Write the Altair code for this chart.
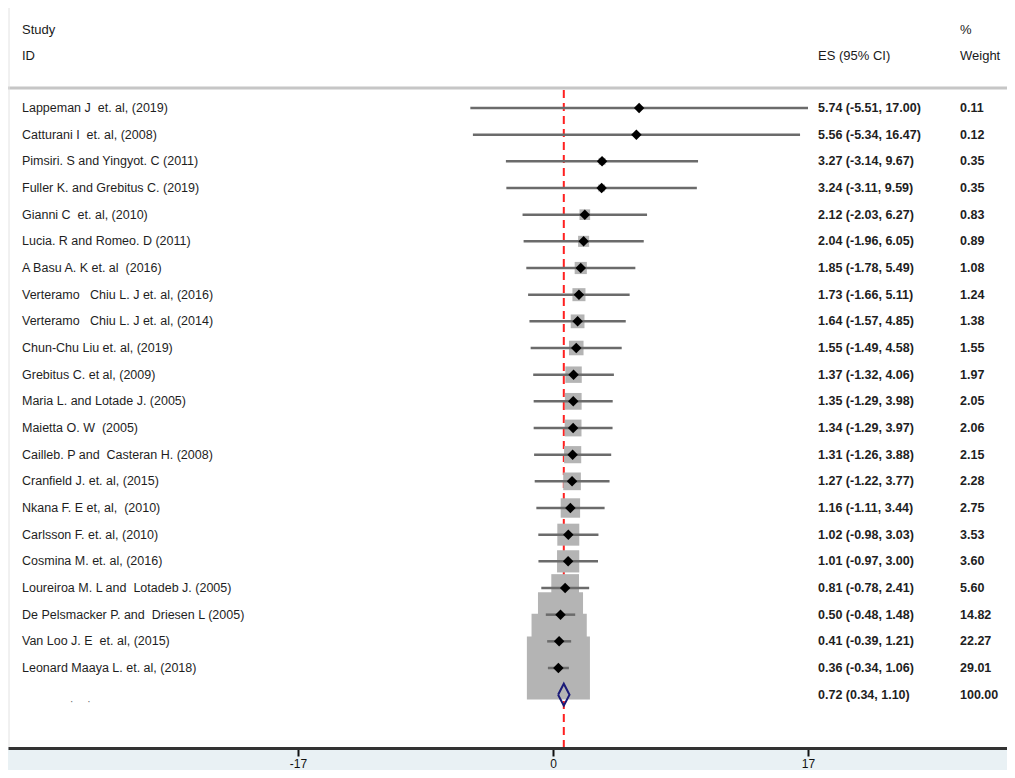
import altair as alt
import pandas as pd

studies = [
    "Lappeman J  et. al, (2019)",
    "Catturani I  et. al, (2008)",
    "Pimsiri. S and Yingyot. C (2011)",
    "Fuller K. and Grebitus C. (2019)",
    "Gianni C  et. al, (2010)",
    "Lucia. R and Romeo. D (2011)",
    "A Basu A. K et. al  (2016)",
    "Verteramo   Chiu L. J et. al, (2016)",
    "Verteramo   Chiu L. J et. al, (2014)",
    "Chun-Chu Liu et. al, (2019)",
    "Grebitus C. et al, (2009)",
    "Maria L. and Lotade J. (2005)",
    "Maietta O. W  (2005)",
    "Cailleb. P and  Casteran H. (2008)",
    "Cranfield J. et. al, (2015)",
    "Nkana F. E et, al,  (2010)",
    "Carlsson F. et. al, (2010)",
    "Cosmina M. et. al, (2016)",
    "Loureiroa M. L and  Lotadeb J. (2005)",
    "De Pelsmacker P. and  Driesen L (2005)",
    "Van Loo J. E  et. al, (2015)",
    "Leonard Maaya L. et. al, (2018)",
]
es = [5.74, 5.56, 3.27, 3.24, 2.12, 2.04, 1.85, 1.73, 1.64, 1.55, 1.37,
      1.35, 1.34, 1.31, 1.27, 1.16, 1.02, 1.01, 0.81, 0.50, 0.41, 0.36]
lo = [-5.51, -5.34, -3.14, -3.11, -2.03, -1.96, -1.78, -1.66, -1.57, -1.49, -1.32,
      -1.29, -1.29, -1.26, -1.22, -1.11, -0.98, -0.97, -0.78, -0.48, -0.39, -0.34]
hi = [17.00, 16.47, 9.67, 9.59, 6.27, 6.05, 5.49, 5.11, 4.85, 4.58, 4.06,
      3.98, 3.97, 3.88, 3.77, 3.44, 3.03, 3.00, 2.41, 1.48, 1.21, 1.06]
weights = [0.11, 0.12, 0.35, 0.35, 0.83, 0.89, 1.08, 1.24, 1.38, 1.55, 1.97,
           2.05, 2.06, 2.15, 2.28, 2.75, 3.53, 3.60, 5.60, 14.82, 22.27, 29.01]
overall_es, overall_lo, overall_hi, overall_w = 0.72, 0.34, 1.10, 100.00
axis_ticks = [-17, 0, 17]

W, H = 999, 740
FONT = "Liberation Sans"

n = len(studies)
df = pd.DataFrame({
    "row": list(range(n)),
    # keep the repeated spaces visible in SVG
    "study": [s.replace("  ", " \u00a0") for s in studies],
    "es": es,
    "lo": lo,
    "hi": hi,
    "w": weights,
})
df["es_txt"] = [f"{e:.2f} ({l:.2f}, {h:.2f})" for e, l, h in zip(es, lo, hi)]
df["w_txt"] = [f"{w:.2f}" for w in weights]

ov_row = n
ov = pd.DataFrame({
    "row": [ov_row], "es": [overall_es], "lo": [overall_lo], "hi": [overall_hi],
    "es_txt": [f"{overall_es:.2f} ({overall_lo:.2f}, {overall_hi:.2f})"],
    "w_txt": [f"{overall_w:.2f}"],
})
half = 0.41
dia = pd.DataFrame({
    "k": [0, 1, 2, 3, 4],
    "x": [overall_lo, overall_es, overall_hi, overall_es, overall_lo],
    "row": [ov_row, ov_row - half, ov_row, ov_row + half, ov_row],
})

xscale = alt.Scale(domain=[-545 / 15, (W - 545) / 15], nice=False, zero=False)
yscale = alt.Scale(domain=[-3.75, 24.0], reverse=True, nice=False, zero=False)
xaxis = alt.Axis(values=axis_ticks, title=None, grid=False, domainColor="#333333",
                 domainWidth=3, tickColor="#111111", tickWidth=2, tickSize=8,
                 labelFont=FONT, labelFontSize=12, labelColor="#111111",
                 labelPadding=2, labelBaseline="top",
                 labelExpr="'' + datum.value", zindex=1)


def X(field):
    return alt.X(field, type="quantitative", scale=xscale, axis=xaxis)


def Y(field="row"):
    return alt.Y(field, type="quantitative", scale=yscale, axis=None)


dummy = pd.DataFrame({"a": [0]})

band = alt.Chart(dummy).mark_rect(color="#e9f1f4").encode(
    x=alt.value(0), x2=alt.value(W), y=alt.value(H), y2=alt.value(H + 22))
header_line = alt.Chart(dummy).mark_rule(color="#c6c6c6", strokeWidth=3).encode(
    x=alt.value(0), x2=alt.value(W), y=alt.value(80))
left_border = alt.Chart(dummy).mark_rule(color="#e2e2e2", strokeWidth=1).encode(
    x=alt.value(1), y=alt.value(0), y2=alt.value(H))

ref = alt.Chart(ov).mark_rule(color="#ff2020", strokeWidth=2, strokeDash=[8, 5]).encode(
    x=X("es"), y=alt.value(82), y2=alt.value(H))

boxes = alt.Chart(df).mark_square(color="#b4b4b4", opacity=1).encode(
    x=X("es"), y=Y(),
    size=alt.Size("w:Q", scale=alt.Scale(domain=[0, 100], range=[0, 13700]), legend=None))

ci = alt.Chart(df).mark_rule(color="#6b6b6b", strokeWidth=2.5).encode(
    x=X("lo"), x2="hi", y=Y())

pts = alt.Chart(df).mark_point(shape="diamond", filled=True, color="#000000",
                               size=110, opacity=1).encode(x=X("es"), y=Y())

ov_dia = alt.Chart(dia).mark_line(color="#1a1a78", strokeWidth=2, strokeJoin="miter").encode(
    x=X("x"), y=Y(), order="k:Q")

txt = dict(align="left", baseline="middle", font=FONT, fontSize=12.5, color="#1e1e1e")
study_txt = alt.Chart(df).mark_text(**txt).encode(x=alt.value(14), y=Y(), text="study")
es_t = alt.Chart(df).mark_text(**txt, fontWeight="bold").encode(
    x=alt.value(810), y=Y(), text="es_txt")
w_t = alt.Chart(df).mark_text(**txt, fontWeight="bold").encode(
    x=alt.value(952), y=Y(), text="w_txt")
ov_es_t = alt.Chart(ov).mark_text(**txt, fontWeight="bold").encode(
    x=alt.value(810), y=Y(), text="es_txt")
ov_w_t = alt.Chart(ov).mark_text(**txt, fontWeight="bold").encode(
    x=alt.value(952), y=Y(), text="w_txt")
ov_lab = alt.Chart(ov).mark_text(align="left", baseline="middle", font=FONT,
                                 fontSize=10, color="#666666").encode(
    x=alt.value(62), y=alt.value(694), text=alt.value("·\u00a0\u00a0\u00a0\u00a0\u00a0·"))

hdr = dict(align="left", baseline="middle", font=FONT, fontSize=13, color="#1a1a1a")
h_study = alt.Chart(dummy).mark_text(**hdr).encode(
    x=alt.value(14), y=alt.value(22), text=alt.value("Study"))
h_id = alt.Chart(dummy).mark_text(**hdr).encode(
    x=alt.value(14), y=alt.value(48), text=alt.value("ID"))
h_es = alt.Chart(dummy).mark_text(**hdr).encode(
    x=alt.value(810), y=alt.value(48), text=alt.value("ES (95% CI)"))
h_pct = alt.Chart(dummy).mark_text(**hdr).encode(
    x=alt.value(952), y=alt.value(22), text=alt.value("%"))
h_w = alt.Chart(dummy).mark_text(**hdr).encode(
    x=alt.value(952), y=alt.value(48), text=alt.value("Weight"))

chart = alt.layer(
    band, header_line, left_border, ref, boxes, ci, pts, ov_dia,
    study_txt, es_t, w_t, ov_es_t, ov_w_t, ov_lab,
    h_study, h_id, h_es, h_pct, h_w,
).properties(
    width=W, height=H,
    autosize=alt.AutoSizeParams(type="none"),
    padding={"left": 0, "top": 0, "right": 0, "bottom": 22},
).configure_view(stroke=None)

chart.save("out.html", embed_options={"renderer": "svg", "actions": False})
